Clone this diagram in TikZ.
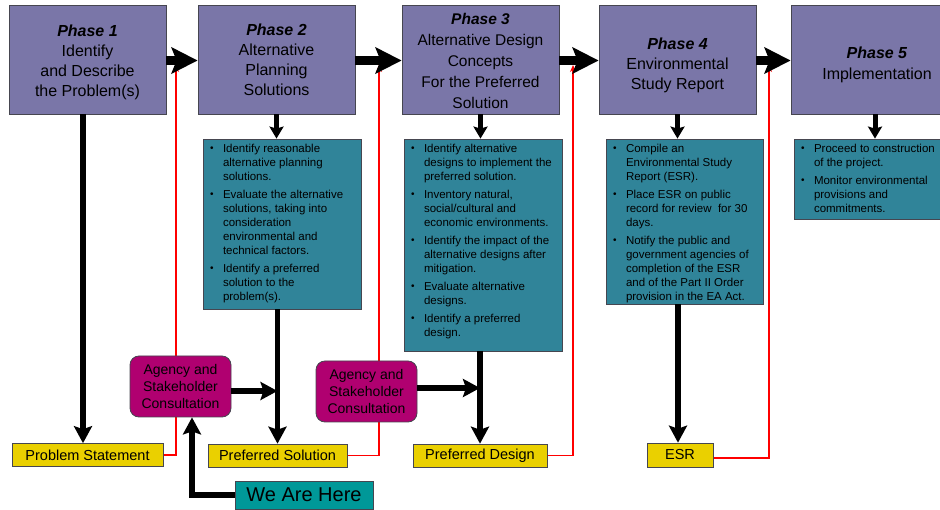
\documentclass[tikz,border=0pt]{standalone}
\usepackage{fontspec}
\setmainfont{Liberation Sans}
\usetikzlibrary{arrows.meta,backgrounds}
\definecolor{phasefill}{RGB}{122,118,168}
\definecolor{tealfill}{RGB}{48,132,153}
\definecolor{agfill}{RGB}{176,0,112}
\definecolor{yel}{RGB}{234,208,0}
\definecolor{wahfill}{RGB}{0,152,152}
\definecolor{edgecol}{RGB}{70,70,80}
\newcommand\bitem[1]{\par\noindent{\let\\\newline\hangindent=13pt\hangafter=1\makebox[13pt][l]{\raisebox{0.3pt}{\fontsize{10}{10}\selectfont\textbullet}}#1\par}\vspace{4pt}}
\newcommand\tealbody[3]{\begin{minipage}[c][#1][t]{#2}\raggedright\fontsize{11.5}{14}\selectfont\vspace*{4.7pt}#3\end{minipage}}
\newcommand\phtext[2]{\raisebox{#1}[\height][\depth]{\begin{tabular}{@{}c@{}}#2\end{tabular}}}
\tikzset{
  phase/.style={draw=edgecol, line width=0.8pt, fill=phasefill, inner sep=0pt, align=center,
    font=\fontsize{16}{20}\selectfont, minimum height=109pt},
  tealbox/.style={draw=edgecol, line width=0.8pt, fill=tealfill, inner sep=0pt},
  yelbox/.style={draw=edgecol, line width=0.6pt, fill=yel, inner sep=0pt, minimum height=23pt,
    font=\fontsize{14.5}{16}\selectfont},
  agbox/.style={draw=edgecol, line width=0.8pt, fill=agfill, rounded corners=9pt, inner sep=0pt,
    minimum width=101pt, minimum height=61pt, align=center, font=\fontsize{14}{16.7}\selectfont},
  bigarrow/.style={line width=8.5pt, -{Stealth[length=26pt,width=26pt,inset=5pt]}},
  medarrow/.style={line width=5.5pt, -{Stealth[length=17pt,width=18pt,inset=3pt]}},
  smallarrow/.style={line width=5pt, -{Stealth[length=12pt,width=14pt,inset=2pt]}},
  redline/.style={red, line width=1.2pt, -{Stealth[length=7pt,width=6pt]}}
}
\begin{document}
\begin{tikzpicture}[x=1pt,y=-1pt]
\useasboundingbox (0,0) rectangle (940,510);
\clip (0,0) rectangle (940,510);
% phase boxes
\node[phase, minimum width=157pt] (ph1) at (87.5,59.5) {\phtext{-3pt}{\textbf{\textit{Phase 1}}\\Identify\\and Describe\\the Problem(s)}};
\node[phase, minimum width=157pt] (ph2) at (276.5,59.5) {\phtext{-2.5pt}{\textbf{\textit{Phase 2}}\\Alternative\\Planning\\Solutions}};
\node[phase, minimum width=157pt, font=\fontsize{15.5}{21}\selectfont] (ph3) at (480.5,59.5) {\phtext{-3pt}{\textbf{\textit{Phase 3}}\\Alternative Design\\Concepts\\For the Preferred\\Solution}};
\node[phase, minimum width=157pt] (ph4) at (677.5,59.5) {\phtext{-6pt}{\textbf{\textit{Phase 4}}\\Environmental\\Study Report}};
\node[phase, minimum width=172pt, font=\fontsize{16}{21}\selectfont] (ph5) at (877,59.5) {\phtext{-5pt}{\textbf{\textit{Phase 5}}\\Implementation}};
% teal boxes
\node[tealbox, minimum width=158pt] (t2) at (282,224) {\tealbody{170pt}{144pt}{%
\bitem{Identify reasonable\\alternative planning\\solutions.}
\bitem{Evaluate the alternative\\solutions, taking into\\consideration\\environmental and\\technical factors.}
\bitem{Identify a preferred\\solution to the\\problem(s).}}};
\node[tealbox, minimum width=158pt] (t3) at (483,245) {\tealbody{212pt}{144pt}{%
\bitem{Identify alternative\\designs to implement the\\preferred solution.}
\bitem{Inventory natural,\\social/cultural and\\economic environments.}
\bitem{Identify the impact of the\\alternative designs after\\mitigation.}
\bitem{Evaluate alternative\\designs.}
\bitem{Identify a preferred\\design.}}};
\node[tealbox, minimum width=157pt] (t4) at (684.5,221.5) {\tealbody{165pt}{143pt}{%
\bitem{Compile an\\Environmental Study\\Report (ESR).}
\bitem{Place ESR on public\\record for review\ \ for 30\\days.}
\bitem{Notify the public and\\government agencies of\\completion of the ESR\\and of the Part II Order\\provision in the EA Act.}}};
\node[tealbox, minimum width=166pt] (t5) at (877,179) {\tealbody{80pt}{152pt}{%
\bitem{Proceed to construction\\of the project.}
\bitem{Monitor environmental\\provisions and\\commitments.}}};
% bottom boxes
\node[yelbox, minimum width=151pt] (pst) at (87.5,455) {Problem Statement};
\node[yelbox, minimum width=139pt] (psol) at (277.5,455.5) {Preferred Solution};
\node[yelbox, minimum width=134pt] (pd) at (480,455.5) {Preferred Design};
\node[yelbox, minimum width=66pt, minimum height=24pt] (esr) at (680,455) {ESR};
\node[draw=edgecol, line width=0.6pt, fill=wahfill, inner sep=0pt, minimum width=138pt, minimum height=28pt,
  font=\fontsize{20}{22}\selectfont] (wah) at (304,495) {We Are Here};
\node[agbox] (ag1) at (180.5,386.5) {Agency and\\Stakeholder\\Consultation};
\node[agbox] (ag2) at (366.5,391.5) {Agency and\\Stakeholder\\Consultation};
% red feedback lines
\coordinate (c1) at (176,65);
\coordinate (c2) at (379,65);
\coordinate (c3) at (573,65);
\coordinate (c4) at (769,65);
\begin{scope}[on background layer]
\draw[redline] (pst.east) -| (c1);
\draw[redline] (psol.east) -| (c2);
\draw[redline] (pd.east) -| (c3);
\draw[redline] ([yshift=-3pt]esr.east) -| (c4);
\end{scope}
% phase to phase
\draw[bigarrow] ([yshift=-1pt]ph1.east) -- ([yshift=-1pt]ph2.west);
\draw[bigarrow] ([yshift=-1pt]ph2.east) -- ([yshift=-1pt]ph3.west);
\draw[bigarrow] ([yshift=-1pt]ph3.east) -- ([yshift=-1pt]ph4.west);
\draw[bigarrow] ([yshift=-1pt]ph4.east) -- ([yshift=-1pt]ph5.west);
% phase to teal
\draw[smallarrow] (ph2.south) -- (ph2.south |- t2.north);
\draw[smallarrow] (ph3.south) -- (ph3.south |- t3.north);
\draw[smallarrow] (ph4.south) -- (ph4.south |- t4.north);
\draw[smallarrow] ([xshift=-2pt]ph5.south) -- ([xshift=-2pt]ph5.south |- t5.north);
% down to outputs
\draw[medarrow] ([xshift=-4.5pt]ph1.south) -- ([xshift=-4.5pt]pst.north);
\draw[medarrow] (t2.south -| psol.north) -- (psol.north);
\draw[medarrow] (t3.south -| pd.north) -- (pd.north);
\draw[medarrow] ([xshift=-2pt]t4.south -| esr.north) -- ([xshift=-2pt]esr.north);
% consultation
\draw[medarrow] ([yshift=-4.5pt]ag1.east) -- ([yshift=-4.5pt]ag1.east -| psol.north);
\draw[medarrow] ([yshift=3.5pt]ag2.east) -- ([yshift=3.5pt]ag2.east -| pd.north);
\draw[medarrow] (wah.west) -| ([xshift=11.5pt]ag1.south);
\end{tikzpicture}
\end{document}
